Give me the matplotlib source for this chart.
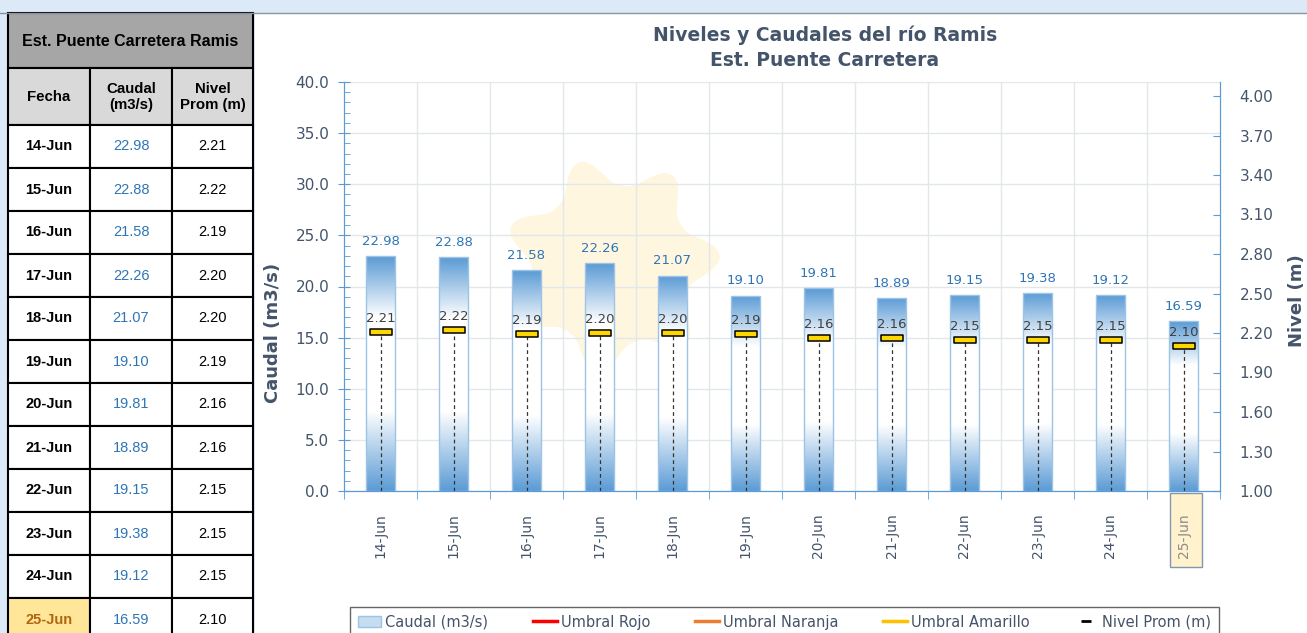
import numpy as np
import matplotlib
matplotlib.use('Agg')
import matplotlib.pyplot as plt
from matplotlib.colors import LinearSegmentedColormap
from matplotlib.patches import Rectangle, Patch, Polygon
from matplotlib.lines import Line2D
from matplotlib.path import Path

fechas = ['14-Jun', '15-Jun', '16-Jun', '17-Jun', '18-Jun', '19-Jun',
          '20-Jun', '21-Jun', '22-Jun', '23-Jun', '24-Jun', '25-Jun']
caudal = [22.98, 22.88, 21.58, 22.26, 21.07, 19.10, 19.81, 18.89, 19.15, 19.38, 19.12, 16.59]
nivel = [2.21, 2.22, 2.19, 2.20, 2.20, 2.19, 2.16, 2.16, 2.15, 2.15, 2.15, 2.10]

W, H = 1307, 633
TXT = '#44546a'
BLUE = '#5b9bd5'

fig = plt.figure(figsize=(W / 100, H / 100), dpi=100)
fig.patch.set_facecolor('#dce9f6')

# background layer in pixel coordinates (table + white panel)
bg = fig.add_axes([0, 0, 1, 1], zorder=-5)
bg.set_xlim(0, W)
bg.set_ylim(H, 0)
bg.axis('off')
bg.add_patch(Rectangle((255, 13), W - 255, H, facecolor='white', edgecolor='none'))
bg.plot([0, W], [12.5, 12.5], color='#8a94a0', lw=1)

# faint sun of the watermark
t = np.linspace(0, 2 * np.pi, 400)
r = 80 + 28 * (0.5 + 0.5 * np.cos(7 * t + 0.6)) ** 1.5
bg.add_patch(Polygon(np.c_[612 + r * np.cos(t), 265 + r * np.sin(t)],
                     facecolor='#fef6de', edgecolor='none'))

# highlight of the last date label
bg.add_patch(Rectangle((1170, 493), 32, 74, facecolor='#fff2cc', edgecolor='#8497b0', lw=1))

# table
cols = [8, 90, 172, 253]
tfont = 'Liberation Sans'
bg.add_patch(Rectangle((8, 13), 245, 55, facecolor='#a6a6a6', edgecolor='black', lw=1.5))
bg.text(130.5, 41, 'Est. Puente Carretera Ramis', ha='center', va='center',
        fontsize=11.5, fontweight='bold', family=tfont)
heads = ['Fecha', 'Caudal\n(m3/s)', 'Nivel\nProm (m)']
for j, h in enumerate(heads):
    bg.add_patch(Rectangle((cols[j], 68), cols[j + 1] - cols[j], 57,
                           facecolor='#d9d9d9', edgecolor='black', lw=1.5))
    bg.text((cols[j] + cols[j + 1]) / 2, 97, h, ha='center', va='center',
            fontsize=10.8, fontweight='bold', family=tfont, linespacing=1.25)
for i, f in enumerate(fechas):
    y0 = 125 + 43 * i
    last = i == len(fechas) - 1
    vals = [f, f'{caudal[i]:.2f}', f'{nivel[i]:.2f}']
    for j, v in enumerate(vals):
        fc = '#ffe699' if (last and j == 0) else 'white'
        bg.add_patch(Rectangle((cols[j], y0), cols[j + 1] - cols[j], 43,
                               facecolor=fc, edgecolor='black', lw=1.5))
        color = ['black', '#2e75b6', 'black'][j]
        if last and j == 0:
            color = '#b0650f'
        bg.text((cols[j] + cols[j + 1]) / 2, y0 + 21.5, v, ha='center', va='center',
                fontsize=10.5, family=tfont, color=color,
                fontweight='bold' if j == 0 else 'normal')

# chart
ax = fig.add_axes([344 / W, (H - 491) / H, 876 / W, 409 / H])
ax.patch.set_alpha(0)
x = np.arange(len(fechas))
bw = 0.41

cmap = LinearSegmentedColormap.from_list(
    'caudal', [(0, BLUE), (0.34, 'white'), (0.74, 'white'), (1, BLUE)])
grad = np.linspace(0, 1, 256).reshape(-1, 1)
bars = ax.bar(x, caudal, width=bw, facecolor='none', edgecolor='#9dc3e6', lw=1, zorder=3)
for b, xi, c in zip(bars, x, caudal):
    im = ax.imshow(grad, cmap=cmap, extent=[xi - bw / 2, xi + bw / 2, 0, c],
                   origin='lower', aspect='auto', zorder=2)
    im.set_clip_path(b)
    ax.annotate(f'{c:.2f}', (xi, c), xytext=(0, 6), textcoords='offset points',
                ha='center', va='bottom', fontsize=9.5, color='#2e75b6')

ax.set_xlim(-0.5, len(fechas) - 0.5)
ax.set_ylim(0, 40)
ax.set_yticks(np.arange(0, 40.1, 5))
ax.set_yticks(np.arange(0, 40.1, 1), minor=True)
ax.set_yticklabels([f'{v:.1f}' for v in np.arange(0, 40.1, 5)])
ax.set_xticks(x)
ax.set_xticklabels(fechas, rotation=90)
ax.set_xticks(np.arange(-0.5, len(fechas)), minor=True)
ax.tick_params(axis='x', which='major', length=0, pad=16, labelsize=10, labelcolor=TXT)
ax.tick_params(axis='x', which='minor', length=6, color=BLUE, direction='out')
ax.tick_params(axis='y', which='major', length=9, direction='inout', color=BLUE,
               labelsize=11, labelcolor=TXT, pad=6)
ax.tick_params(axis='y', which='minor', length=4, direction='in', color=BLUE)
ax.grid(axis='y', which='major', color='#e3e6ea', lw=1)
for b in np.arange(0.5, len(fechas) - 1):
    ax.axvline(b, color='#e3e6ea', lw=1, zorder=0.5)
ax.set_axisbelow(True)
for s in ['left', 'bottom', 'right']:
    ax.spines[s].set_color(BLUE)
ax.spines['top'].set_visible(False)
ax.get_xticklabels()[-1].set_color('#8c8c8c')

ax2 = ax.twinx()
ax2.set_ylim(1.0, 1.0 + 3.0 * 409 / 395)
ax2.set_yticks(np.arange(1.0, 4.01, 0.3))
ax2.set_yticklabels([f'{v:.2f}' for v in np.arange(1.0, 4.01, 0.3)])
ax2.tick_params(axis='y', length=5, direction='in', color=BLUE, labelsize=11,
                labelcolor=TXT, pad=14)
for s in ['left', 'bottom', 'right']:
    ax2.spines[s].set_color(BLUE)
ax2.spines['top'].set_visible(False)

ax2.vlines(x, 1.0, nivel, colors='#333333', linestyles=(0, (3, 2.5)), lw=0.9, zorder=3)
rect = Path([(-1, -0.24), (1, -0.24), (1, 0.24), (-1, 0.24), (-1, -0.24)],
            [Path.MOVETO, Path.LINETO, Path.LINETO, Path.LINETO, Path.CLOSEPOLY])
ax2.plot(x, nivel, linestyle='none', marker=rect, markersize=16.5,
         markerfacecolor='#ffd700', markeredgecolor='black', markeredgewidth=1.1, zorder=4)
for xi, n in zip(x, nivel):
    ax2.annotate(f'{n:.2f}', (xi, n), xytext=(0, 5), textcoords='offset points',
                 ha='center', va='bottom', fontsize=9.5, color='#404040')

# titles and axis labels
fig.text(825 / W, 1 - 35 / H, 'Niveles y Caudales del río Ramis', ha='center', va='center',
         fontsize=13.5, fontweight='bold', color=TXT)
fig.text(825 / W, 1 - 60 / H, 'Est. Puente Carretera', ha='center', va='center',
         fontsize=13.5, fontweight='bold', color=TXT)
fig.text(273 / W, 1 - 333 / H, 'Caudal (m3/s)', rotation=90, ha='center', va='center',
         fontsize=13, fontweight='bold', color=TXT)
fig.text(1297 / W, 1 - 301 / H, 'Nivel (m)', rotation=90, ha='center', va='center',
         fontsize=13, fontweight='bold', color=TXT)

handles = [
    Patch(facecolor='#c5dcf1', edgecolor='#9dc3e6'),
    Line2D([], [], color='#ff0000', lw=2.5),
    Line2D([], [], color='#ed7d31', lw=2.5),
    Line2D([], [], color='#ffc000', lw=2.5),
    Line2D([], [], color='black', marker='_', linestyle='none', markersize=7, mew=2),
]
names = ['Caudal (m3/s)', 'Umbral Rojo', 'Umbral Naranja', 'Umbral Amarillo', 'Nivel Prom (m)']
leg = fig.legend(handles, names, ncol=5, loc='upper left',
                 bbox_to_anchor=(343 / W, 1 - 640 / H, 883 / W, 40 / H), mode='expand',
                 fontsize=10.5, frameon=True, fancybox=False, handlelength=1.6,
                 handletextpad=0.3, borderpad=0.5, labelcolor=TXT)
leg.get_frame().set_edgecolor('#404040')
leg.get_frame().set_linewidth(1)

fig.savefig('out.png', dpi=100)
